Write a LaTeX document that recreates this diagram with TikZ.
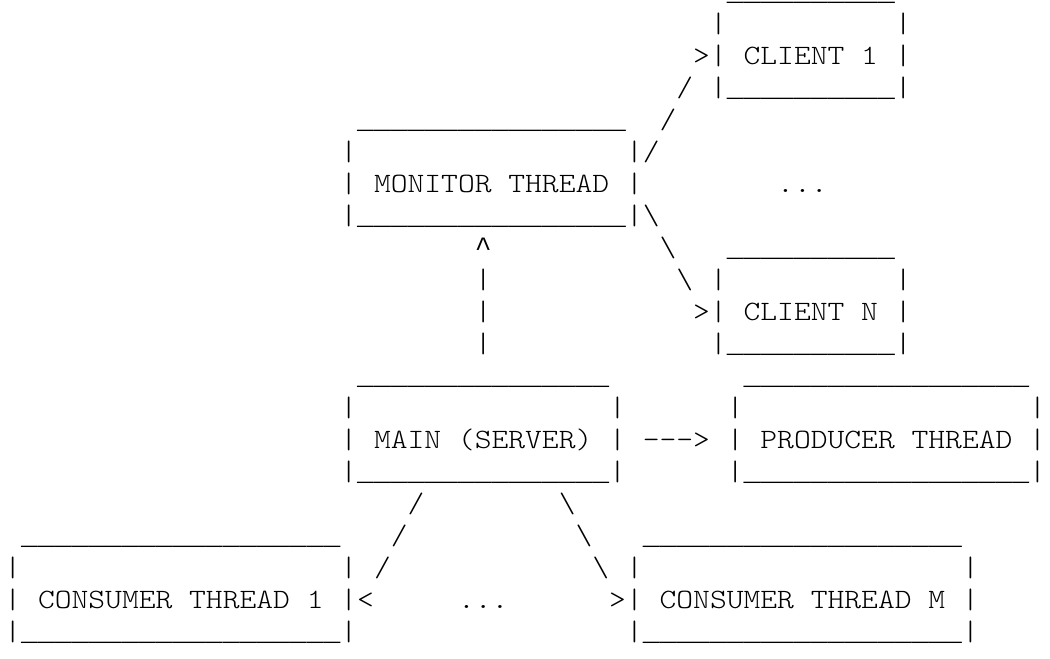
\documentclass[tikz,border=0pt]{standalone}
\usepackage{fontspec}
\setmonofont[FakeStretch=1.143]{lmmonolt10-regular.otf}
\newfontfamily\barfont{Liberation Mono}
\tikzset{
  ascii/.style={anchor=base west, inner sep=0pt, xshift=3.1pt,
    font=\ttfamily\fontsize{21pt}{24pt}\selectfont},
  bars/.style={ascii, font=\barfont\fontsize{21pt}{24pt}\selectfont}
}
% name, column, row, inner width, label
\newcommand\asciibox[5]{%
  \node[bars] (#1-top) at (#2+1,#3) {\foreach \i in {1,...,#4}{\_}};
  \foreach \r in {1,2,3}{%
    \node[ascii] (#1-l\r) at (#2,#3+\r) {|};
    \node[ascii] (#1-r\r) at (#2+#4+1,#3+\r) {|};
  }
  \node[ascii] (#1) at (#2+2,#3+2) {#5};
  \node[bars] (#1-bot) at (#2+1,#3+3) {\foreach \i in {1,...,#4}{\_}};
}
\begin{document}
\begin{tikzpicture}[x=12.6pt,y=-24pt]
\useasboundingbox (0,0) rectangle (62.5,20.5625);
\asciibox{client1}{42}{0}{10}{CLIENT 1}
\asciibox{monitor}{20}{4}{16}{MONITOR THREAD}
\asciibox{clientN}{42}{8}{10}{CLIENT N}
\asciibox{main}{20}{12}{15}{MAIN (SERVER)}
\asciibox{producer}{43}{12}{17}{PRODUCER THREAD}
\asciibox{consumer1}{0}{17}{19}{CONSUMER THREAD 1}
\asciibox{consumerM}{37}{17}{19}{CONSUMER THREAD M}
\foreach \c/\r in {38/5,39/4,40/3}{%
    \node[ascii] (up-\r) at (\c,\r) {/};
}
\node[ascii] (tip-c1) at (41,2) {>};
\foreach \c/\r in {38/7,39/8,40/9}{%
    \node[ascii] (down-\r) at (\c,\r) {\textbackslash};
}
\node[ascii] (tip-cN) at (41,10) {>};
\node[ascii] (dots-c) at (46,6) {...};
\node[bars] (tip-mon) at (28,8) {\textasciicircum};
\foreach \r in {9,10,11}{%
    \node[ascii] (vert-\r) at (28,\r) {|};
}
\node[ascii] (to-prod) at (38,14) {--{}->};
\foreach \c/\r in {24/16,23/17,22/18}{%
    \node[ascii] (left-\r) at (\c,\r) {/};
}
\node[ascii] (tip-con1) at (21,19) {<};
\foreach \c/\r in {33/16,34/17,35/18}{%
    \node[ascii] (right-\r) at (\c,\r) {\textbackslash};
}
\node[ascii] (tip-conM) at (36,19) {>};
\node[ascii] (dots-t) at (27,19) {...};
\end{tikzpicture}
\end{document}
